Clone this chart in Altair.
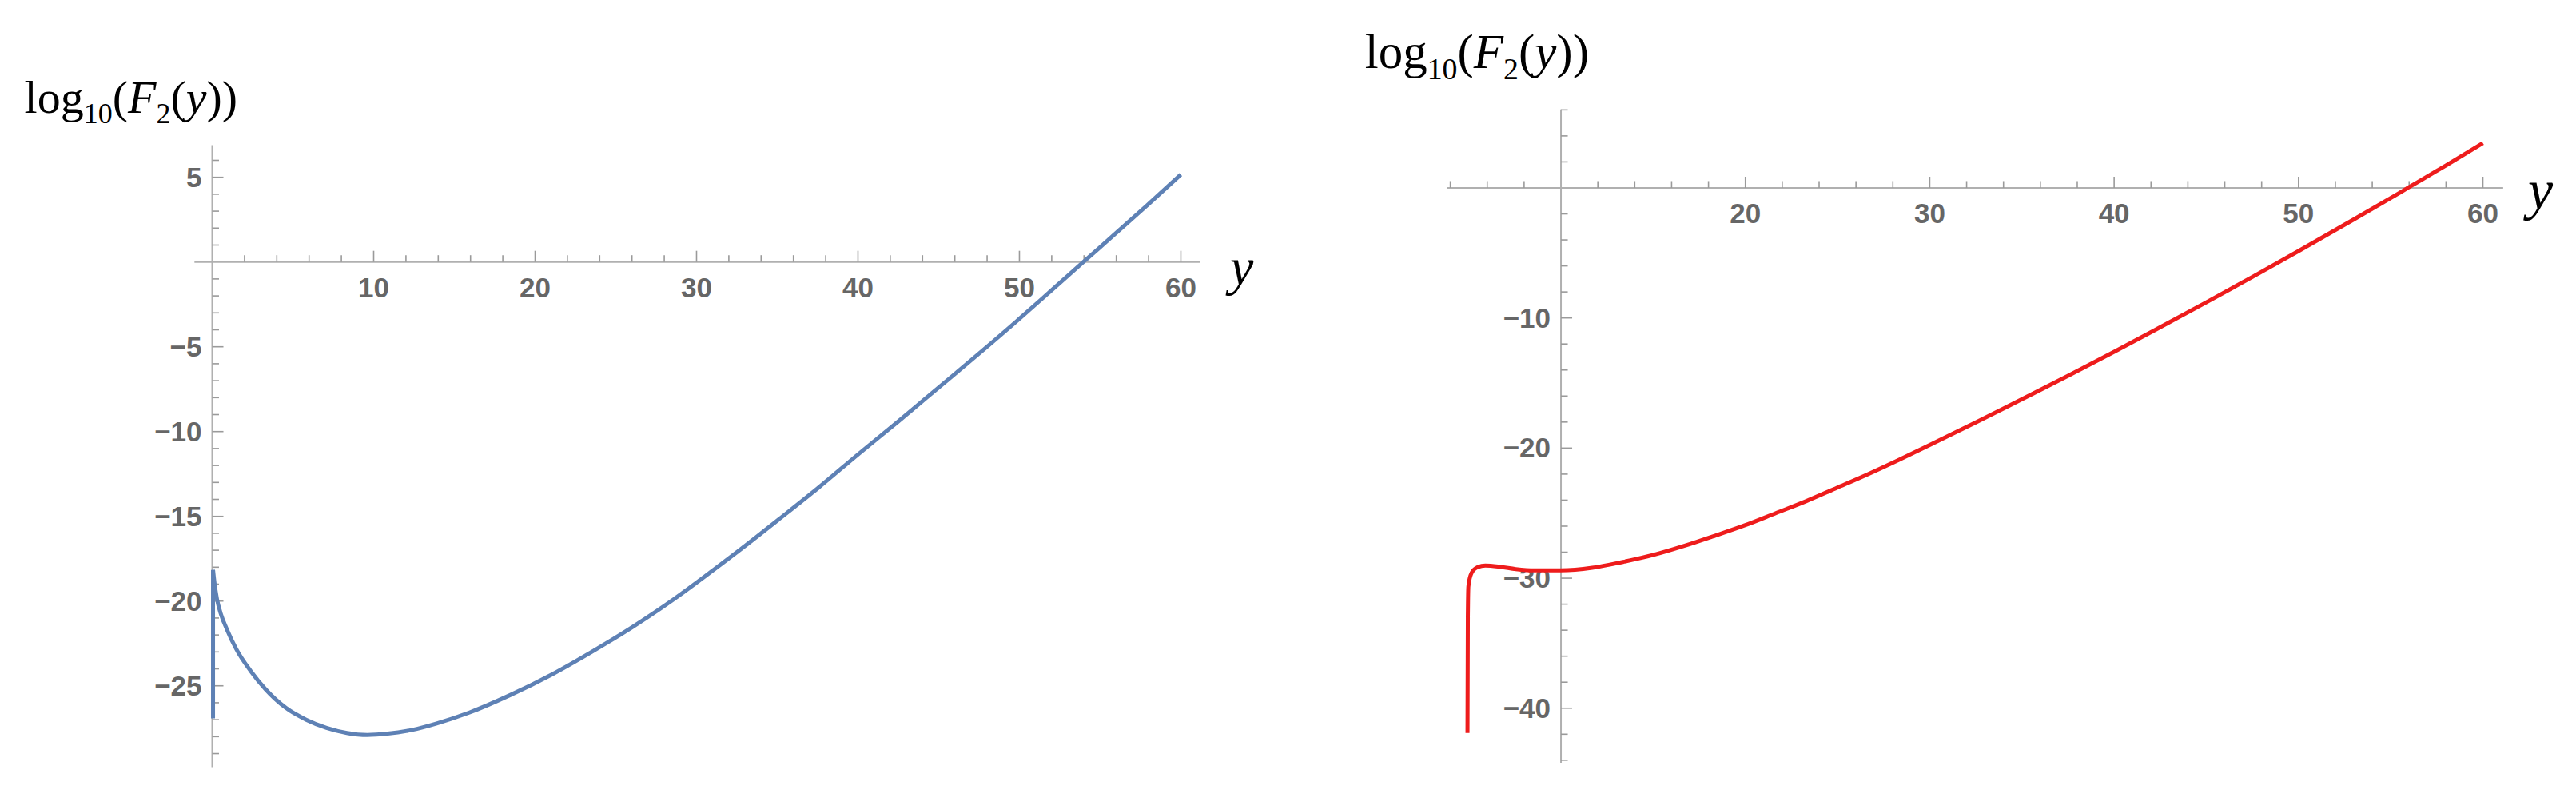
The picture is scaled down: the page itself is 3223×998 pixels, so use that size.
import altair as alt
import pandas as pd

# ---------------- data ----------------
# left (blue) curve: a vertical spike at y≈0, then the main curve
left_spike_x = [0.05, 0.05]
left_spike_y = [-26.92, -18.16]
left_x = [0.05, 0.15, 0.3, 0.55, 0.9, 1.5, 2.4, 3.3, 4.56, 5.82, 7.08, 8.34, 9.61,
          10.87, 12.39, 13.9, 15.92, 18.45, 21.0, 23.5, 26.0, 28.55, 31.0, 33.0, 35.0, 37.5,
          40.0, 42.5, 45.0, 47.5, 50.0, 52.0, 53.96, 56.0, 58.0, 60.0]
left_y = [-18.16, -19.0, -19.9, -20.8, -21.65, -22.85, -24.15, -25.2, -26.3, -27.0,
          -27.48, -27.78, -27.9, -27.82, -27.6, -27.22, -26.58, -25.55, -24.35, -23.0, -21.55,
          -19.92, -18.2, -16.75, -15.25, -13.35, -11.35, -9.4, -7.4, -5.4, -3.35, -1.66, 0.0,
          1.72, 3.42, 5.16]

right_x = [4.93, 4.95, 4.98, 5.15, 5.48, 5.9, 6.72, 7.55, 8.55, 10.0, 11.7, 13.36, 15.02, 16.68,
           18.34, 20.0, 21.65, 23.31, 24.97, 26.63, 28.29, 30.24, 32.5, 35.0, 37.5, 40.0, 42.5,
           45.0, 47.5, 50.0, 52.5, 55.0, 55.93, 58.0, 60.0]
right_y = [-41.9, -33.0, -30.63, -29.6, -29.15, -29.03, -29.13, -29.3, -29.4, -29.4, -29.2, -28.75,
           -28.21, -27.52, -26.74, -25.92, -25.0, -24.07, -23.05, -22.02, -20.93, -19.6, -18.03,
           -16.25, -14.44, -12.6, -10.71, -8.8, -6.85, -4.86, -2.83, -0.78, 0.0, 1.73, 3.45]

left_x_major = [10, 20, 30, 40, 50, 60]
left_x_major_labels = ["10", "20", "30", "40", "50", "60"]
left_x_minor = [2, 4, 6, 8, 12, 14, 16, 18, 22, 24, 26, 28, 32, 34, 36, 38, 42, 44, 46, 48,
                52, 54, 56, 58]
left_y_major = [5, -5, -10, -15, -20, -25]
left_y_major_labels = ["5", "\u22125", "\u221210", "\u221215", "\u221220", "\u221225"]
left_y_minor = [6, 4, 3, 2, 1, -1, -2, -3, -4, -6, -7, -8, -9, -11, -12, -13, -14, -16, -17,
                -18, -19, -21, -22, -23, -24, -26, -27, -28, -29]

right_x_major = [20, 30, 40, 50, 60]
right_x_major_labels = ["20", "30", "40", "50", "60"]
right_x_minor = [4, 6, 8, 12, 14, 16, 18, 22, 24, 26, 28, 32, 34, 36, 38, 42, 44, 46, 48,
                 52, 54, 56, 58]
right_y_major = [-10, -20, -30, -40]
right_y_major_labels = ["\u221210", "\u221220", "\u221230", "\u221240"]
right_y_minor = [6, 4, 2, -2, -4, -6, -8, -12, -14, -16, -18, -22, -24, -26, -28, -32, -34,
                 -36, -38, -42, -44]

# ---------------- style ----------------
AXIS_COLOR = "#b0b0b0"
TICK_COLOR = "#9a9a9a"
LABEL_COLOR = "#666666"
LABEL_FONT = "Liberation Sans"
SERIF = "Liberation Serif"
MAJOR_LEN = 14
MINOR_LEN = 8.5
LABEL_SIZE = 35


def panel(segments, color, lw, xdom, xrng, ydom, yrng, x_origin,
          xmaj, xmajlab, xmin, ymaj, ymajlab, ymin,
          title_T, title_dx, title_dy, ylab_size, ylab_dx, ylab_dy):
    xsc = alt.Scale(domain=xdom, range=xrng, nice=False, zero=False)
    ysc = alt.Scale(domain=ydom, range=yrng, nice=False, zero=False)

    def X(f):
        return alt.X(f, type="quantitative", scale=xsc, axis=None)

    def Y(f):
        return alt.Y(f, type="quantitative", scale=ysc, axis=None)

    layers = []
    # axis lines
    layers.append(alt.Chart(pd.DataFrame({"a": [xdom[0]], "b": [xdom[1]], "c": [0]}))
                  .mark_rule(color=AXIS_COLOR, strokeWidth=2)
                  .encode(x=X("a"), x2="b", y=Y("c")))
    layers.append(alt.Chart(pd.DataFrame({"a": [x_origin], "b": [ydom[0]], "c": [ydom[1]]}))
                  .mark_rule(color=AXIS_COLOR, strokeWidth=2)
                  .encode(x=X("a"), y=Y("b"), y2="c"))
    # x ticks
    for vals, ln in ((xmin, MINOR_LEN), (xmaj, MAJOR_LEN)):
        layers.append(alt.Chart(pd.DataFrame({"t": vals, "z": [0] * len(vals)}))
                      .mark_tick(orient="vertical", size=ln, thickness=1.6,
                                 yOffset=-ln / 2, color=TICK_COLOR, opacity=1)
                      .encode(x=X("t"), y=Y("z")))
    # y ticks
    for vals, ln in ((ymin, MINOR_LEN), (ymaj, MAJOR_LEN)):
        layers.append(alt.Chart(pd.DataFrame({"t": vals, "z": [x_origin] * len(vals)}))
                      .mark_tick(orient="horizontal", size=ln, thickness=1.6,
                                 xOffset=ln / 2, color=TICK_COLOR, opacity=1)
                      .encode(x=X("z"), y=Y("t")))
    # tick labels
    layers.append(alt.Chart(pd.DataFrame({"t": xmaj, "z": [0] * len(xmaj), "lab": xmajlab}))
                  .mark_text(align="center", baseline="alphabetic", dy=44, font=LABEL_FONT,
                             fontWeight="bold", fontSize=LABEL_SIZE, color=LABEL_COLOR)
                  .encode(x=X("t"), y=Y("z"), text="lab:N"))
    layers.append(alt.Chart(pd.DataFrame({"t": ymaj, "z": [x_origin] * len(ymaj), "lab": ymajlab}))
                  .mark_text(align="right", baseline="middle", dx=-13, dy=1, font=LABEL_FONT,
                             fontWeight="bold", fontSize=LABEL_SIZE, color=LABEL_COLOR)
                  .encode(x=X("z"), y=Y("t"), text="lab:N"))
    # curve segments
    for xs, ys, interp in segments:
        layers.append(alt.Chart(pd.DataFrame({"x": xs, "y": ys, "i": list(range(len(xs)))}))
                      .mark_line(color=color, strokeWidth=lw, strokeJoin="round",
                                 strokeCap="butt", interpolate=interp)
                      .encode(x=X("x"), y=Y("y"), order="i:Q"))
    # axis label y
    layers.append(alt.Chart(pd.DataFrame({"a": [xdom[1]], "b": [0]}))
                  .mark_text(text="y", align="left", baseline="alphabetic", dx=ylab_dx, dy=ylab_dy,
                             font=SERIF, fontStyle="italic", fontSize=ylab_size, color="black")
                  .encode(x=X("a"), y=Y("b")))
    # title  log10(F2(y))
    pieces = [("log", 1.0, "normal", 0.0, 1278), ("10", 0.62, "normal", 0.23, 1000),
              ("(", 1.0, "normal", 0.0, 333), ("F", 1.0, "italic", 0.0, 611),
              ("2", 0.62, "normal", 0.23, 500), ("(", 1.0, "normal", 0.0, 333),
              ("y", 1.0, "italic", 0.0, 444), ("))", 1.0, "normal", 0.0, 666)]
    off = 0.0
    anchor = pd.DataFrame({"a": [xdom[0]], "b": [ydom[1]]})
    for txt, sc, style, sh, w in pieces:
        size = title_T * sc
        layers.append(alt.Chart(anchor)
                      .mark_text(text=txt, align="left", baseline="alphabetic",
                                 dx=title_dx + off, dy=title_dy + sh * title_T,
                                 font=SERIF, fontStyle=style, fontSize=size, color="black")
                      .encode(x=X("a"), y=Y("b")))
        off += w / 1000.0 * size
    return alt.layer(*layers)


left = panel([(left_spike_x, left_spike_y, "linear"), (left_x, left_y, "monotone")],
             "#5E81B5", 5,
             [-1.1, 61.2], [235.3, 1493.7], [-29.8, 6.9], [951.5, 173.4], 0,
             left_x_major, left_x_major_labels, left_x_minor,
             left_y_major, left_y_major_labels, left_y_minor,
             58, -212.7, -40.7, 66, 37.3, 28.7)

right = panel([(right_x, right_y, "monotone")], "#EE1C1C", 5,
              [3.8, 61.1], [1802.0, 3123.9], [-44.2, 6.04], [946.1, 128.7], 10,
              right_x_major, right_x_major_labels, right_x_minor,
              right_y_major, right_y_major_labels, right_y_minor,
              61, -102.3, -51.7, 70, 31.1, 26.5)

chart = (alt.layer(left, right)
         .resolve_scale(x="independent", y="independent")
         .properties(width=3207, height=982, autosize=alt.AutoSizeParams(type="none"), padding=0)
         .configure_view(stroke=None))

chart.save("out.html", embed_options={"renderer": "svg", "actions": False})
